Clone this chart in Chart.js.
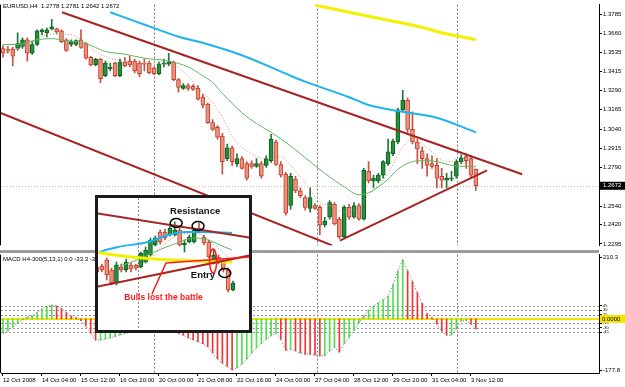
<!DOCTYPE html>
<html>
<head>
<meta charset="utf-8">
<title>EURUSD H4</title>
<script src="https://cdn.jsdelivr.net/npm/chart.js@4.4.1/dist/chart.umd.min.js"></script>
<style>
  html, body { margin: 0; padding: 0; background: #fff; }
  #wrap { position: relative; width: 625px; height: 387px; overflow: hidden; }
  #top { position: absolute; left: 0; top: 0; }
  #bot { position: absolute; left: 0; top: 250px; }
  #insetBox { position: absolute; left: 95px; top: 195px; width: 151px; height: 132px; border: 3px solid #1b1b1b; background: #fff; }
  #ins { display: block; }
</style>
</head>
<body>
<div id="wrap">
  <canvas id="top" width="625" height="250"></canvas>
  <canvas id="bot" width="625" height="137"></canvas>
  <div id="insetBox"><canvas id="ins" width="151" height="132"></canvas></div>
</div>
<script>
// ---- axis labels ----
const timeLabels = ['12 Oct 2008', '14 Oct 04:00', '15 Oct 12:00', '16 Oct 20:00', '20 Oct 00:00', '21 Oct 08:00',
  '22 Oct 16:00', '24 Oct 00:00', '27 Oct 04:00', '28 Oct 12:00', '29 Oct 20:00', '31 Oct 04:00', '3 Nov 12:00'];
const priceTicks = [1.3785, 1.3660, 1.3535, 1.3415, 1.3290, 1.3165, 1.3040, 1.2915, 1.2790, 1.2540, 1.2420, 1.2295];
const macdTicks = [210.3, 45, 30, 15, -15, -30, -45, -177.8];
const macdLevels = [45, 30, 15, -15, -30, -45];
const weekSeps = [31, 64.4, 93.1];

// ---- EURUSD H4 candles ----
const open = [1.3563,1.3557,1.3557,1.3563,1.3576,1.3620,1.3532,1.3589,1.3671,1.3665,
  1.3690,1.3690,1.3677,1.3620,1.3589,1.3589,1.3620,1.3595,1.3506,1.3456,
  1.3494,1.3386,1.3431,1.3468,1.3386,1.3475,1.3481,1.3481,1.3468,1.3468,
  1.3468,1.3437,1.3399,1.3462,1.3462,1.3475,1.3361,1.3304,1.3323,1.3317,
  1.3304,1.3247,1.3203,1.3082,1.3051,1.2994,1.2848,1.2918,1.2816,1.2848,
  1.2816,1.2816,1.2798,1.2816,1.2804,1.2835,1.2956,1.2810,1.2747,1.2544,
  1.2715,1.2639,1.2595,1.2525,1.2544,1.2532,1.2418,1.2468,1.2551,1.2456,
  1.2342,1.2532,1.2468,1.2544,1.2456,1.2766,1.2703,1.2703,1.2741,1.2816,
  1.2880,1.2956,1.3165,1.3228,1.3038,1.2956,1.2899,1.2848,1.2816,1.2804,
  1.2734,1.2709,1.2715,1.2734,1.2829,1.2861,1.2848,1.2778];
const high = [1.3582,1.3576,1.3570,1.3665,1.3633,1.3633,1.3608,1.3684,1.3690,1.3696,
  1.3753,1.3696,1.3684,1.3627,1.3620,1.3620,1.3684,1.3601,1.3513,1.3500,
  1.3500,1.3481,1.3468,1.3475,1.3494,1.3506,1.3513,1.3494,1.3481,1.3494,
  1.3481,1.3443,1.3475,1.3494,1.3532,1.3481,1.3367,1.3336,1.3336,1.3329,
  1.3323,1.3266,1.3209,1.3101,1.3063,1.3013,1.2943,1.2930,1.2880,1.2861,
  1.2829,1.2835,1.2848,1.2829,1.2867,1.3006,1.2968,1.2829,1.2760,1.2753,
  1.2734,1.2658,1.2608,1.2658,1.2557,1.2544,1.2468,1.2576,1.2563,1.2468,
  1.2544,1.2551,1.2563,1.2557,1.2785,1.2829,1.2741,1.2753,1.2835,1.2975,
  1.2975,1.3177,1.3291,1.3241,1.3152,1.2975,1.2924,1.2880,1.2867,1.2848,
  1.2785,1.2753,1.2766,1.2842,1.2873,1.2880,1.2867,1.2781];
const low = [1.3506,1.3532,1.3450,1.3551,1.3563,1.3481,1.3525,1.3582,1.3652,1.3639,
  1.3684,1.3658,1.3601,1.3544,1.3576,1.3582,1.3563,1.3494,1.3450,1.3450,
  1.3342,1.3380,1.3418,1.3380,1.3380,1.3443,1.3443,1.3405,1.3380,1.3418,
  1.3399,1.3393,1.3393,1.3443,1.3450,1.3355,1.3279,1.3298,1.3291,1.3291,
  1.3228,1.3177,1.3076,1.3032,1.2975,1.2747,1.2835,1.2804,1.2798,1.2779,
  1.2709,1.2785,1.2791,1.2722,1.2791,1.2823,1.2804,1.2728,1.2481,1.2519,
  1.2627,1.2595,1.2513,1.2500,1.2519,1.2354,1.2405,1.2456,1.2418,1.2329,
  1.2335,1.2456,1.2462,1.2449,1.2449,1.2690,1.2658,1.2690,1.2722,1.2804,
  1.2867,1.2943,1.3152,1.3019,1.2943,1.2816,1.2785,1.2734,1.2785,1.2658,
  1.2658,1.2658,1.2703,1.2722,1.2816,1.2785,1.2722,1.2642];
const close = [1.3532,1.3551,1.3513,1.3595,1.3620,1.3532,1.3589,1.3677,1.3684,1.3684,
  1.3703,1.3671,1.3608,1.3551,1.3608,1.3614,1.3570,1.3500,1.3456,1.3494,
  1.3367,1.3468,1.3443,1.3386,1.3475,1.3450,1.3456,1.3418,1.3399,1.3462,
  1.3405,1.3399,1.3462,1.3468,1.3475,1.3361,1.3310,1.3323,1.3304,1.3298,
  1.3234,1.3196,1.3082,1.3038,1.2987,1.2829,1.2918,1.2829,1.2848,1.2785,
  1.2722,1.2798,1.2816,1.2734,1.2848,1.2975,1.2810,1.2741,1.2494,1.2734,
  1.2639,1.2608,1.2532,1.2595,1.2525,1.2418,1.2443,1.2563,1.2424,1.2342,
  1.2532,1.2468,1.2544,1.2456,1.2772,1.2703,1.2722,1.2741,1.2829,1.2892,
  1.2962,1.3165,1.3228,1.3038,1.2956,1.2911,1.2848,1.2804,1.2798,1.2722,
  1.2709,1.2722,1.2722,1.2829,1.2854,1.2835,1.2741,1.2672];

// ---- moving averages (bar index, price) ----
const maGreenX = [0,3,7,10,13,17,21,25,29,34,38,41,43,45,49,52,55,59,62,66,70,73,75,77,79,81,84,86,89,92,95,97];
const maGreenY = [1.3589,1.3589,1.3620,1.3627,1.3614,1.3595,1.3544,1.3526,1.3500,1.3481,1.3443,1.3386,1.3342,1.3272,
  1.3146,1.3076,1.3019,1.2930,1.2854,1.2753,1.2665,1.2614,1.2627,1.2665,1.2715,1.2779,1.2829,1.2835,1.2829,1.2804,1.2798,1.2798];
const maDotX = [0,4,7,10,14,17,19,22,25,28,32,35,38,40,42,45,47,51,54,57,59,62,65,67,70,73,75,77,79,82,84,86,88,90,92,95,97];
const maDotY = [1.3532,1.3576,1.3627,1.3658,1.3652,1.3595,1.3544,1.3500,1.3481,1.3469,1.3462,1.3456,1.3380,1.3304,1.3247,
  1.3120,1.2994,1.2880,1.2848,1.2861,1.2804,1.2690,1.2563,1.2544,1.2500,1.2532,1.2614,1.2671,1.2753,1.2924,1.2975,1.2943,
  1.2893,1.2836,1.2829,1.2817,1.2785];
const maBlueX = [22,27,32,36,40,49,59,62,71,75,82,89,97];
const maBlueY = [1.3798,1.3741,1.3684,1.3639,1.3608,1.3519,1.3386,1.3348,1.3247,1.3196,1.3152,1.3114,1.3019];
const maYellowX = [64,71,79,86,90,97];
const maYellowY = [1.3845,1.3798,1.3747,1.3700,1.3665,1.3620];

// ---- trend lines ----
const upperChanX = [12.1, 106.5], upperChanY = [1.3798, 1.2747];
const lowerChanX = [-0.6, 67.5], lowerChanY = [1.3146, 1.2285];
const supportX = [69.1, 99.3], supportY = [1.2316, 1.2772];

// ---- MACD H4-300(5,13,1) ----
const macd = [-49,-42,-28,-15,-3,6,10,22,34,43,
  47,44,35,22,10,4,-6,-25,-50,-73,
  -72,-69,-65,-60,-55,-50,-47,-45,-44,-42,
  -42,-40,-38,-35,-32,-40,-50,-56,-65,-72,
  -78,-85,-95,-117,-137,-152,-163,-175,-168,-155,
  -138,-118,-100,-85,-70,-58,-50,-70,-108,-104,
  -110,-117,-121,-122,-124,-127,-126,-110,-99,-114,
  -85,-65,-40,-14,12,30,44,55,66,78,
  118,165,203,165,128,90,53,18,4,-18,
  -42,-56,-56,-34,-8,-5,-18,-34];

// ---- inset (zoomed view) ----
const insOpen = [1.2798,1.2804,1.2840,1.2780,1.2702,1.2798,1.2780,1.2810,1.2810,1.2798,1.2828,1.2870,1.2930,1.3008,1.3008,
  1.2990,1.2990,1.3020,1.2930,1.2948,1.2948,1.3032,1.2978,1.2948,1.2828,1.2858,1.2828,1.2780,1.2660];
const insHigh = [1.2816,1.2816,1.2852,1.2792,1.2828,1.2816,1.2846,1.2822,1.2816,1.2888,1.2918,1.2972,1.2984,1.3020,1.3026,
  1.3044,1.3068,1.3032,1.2960,1.2990,1.3026,1.3062,1.2990,1.2960,1.2900,1.2870,1.2840,1.2792,1.2714];
const insLow = [1.2756,1.2768,1.2720,1.2690,1.2690,1.2768,1.2768,1.2768,1.2780,1.2792,1.2822,1.2864,1.2924,1.2936,1.2960,
  1.2984,1.2984,1.2924,1.2888,1.2942,1.2942,1.3008,1.2930,1.2852,1.2816,1.2816,1.2768,1.2648,1.2654];
const insClose = [1.2768,1.2780,1.2750,1.2702,1.2810,1.2780,1.2828,1.2786,1.2792,1.2882,1.2900,1.2960,1.2972,1.2948,1.2972,
  1.3032,1.3020,1.2930,1.2942,1.2978,1.3020,1.3014,1.2942,1.2858,1.2870,1.2828,1.2780,1.2660,1.2702];
const insResX = [-0.4, 31.9], insResY = [1.3122, 1.2972];
const insSupX = [-0.4, 31.9], insSupY = [1.2678, 1.2870];
const insBlueX = [-0.4,4.3,10.5,14.6,18.1,21.6,27.8], insBlueY = [1.2882,1.2918,1.2948,1.2990,1.3008,1.3008,1.3002];
const insYellowX = [-0.4,3.7,9.3,15.4,20.2,27.8], insYellowY = [1.2888,1.2870,1.2852,1.2840,1.2834,1.2828];
const insGreenX = [4.7,8.8,11.3,15.4,20.2,22.8,26.3,27.8], insGreenY = [1.2804,1.2846,1.2882,1.2930,1.2972,1.2960,1.2918,1.2900];
const insDotX = [6.8,11.3,15.4,20.2,24.9,27], insDotY = [1.2780,1.2858,1.2972,1.3002,1.2912,1.2858];
const insArrowX = [11.3,14.2,31.5], insArrowY = [1.2636,1.2822,1.2858];
const insSep = 8.4;
const insCircleX = [16.3, 20.8, 26.3], insCircleY = [1.3062, 1.3044, 1.2762];
const insOvalX = 23.9, insOvalY = 1.2834;
const insNotes = ['Resistance', 'Entry', 'Bulls lost the battle'];
const insNoteX = [20.2, 21.8, 13.7], insNoteY = [1.3130, 1.2750, 1.2612];

Chart.defaults.font.family = '"Liberation Sans", Arial, sans-serif';
Chart.defaults.color = '#000';

const X_MIN = -0.41, X_MAX = 122.26;
const pts = (xs, ys) => xs.map((x, k) => ({x: x, y: ys[k]}));

function candleSets(o, h, l, c, order) {
    const idx = o.map((_, i) => i);
    const up = idx.map(i => c[i] >= o[i]);
    return [{
        type: 'bar',
        data: idx.map(i => ({x: i, y: [l[i], h[i]]})),
        barThickness: 1,
        grouped: false,
        backgroundColor: up.map(u => u ? '#1d7a33' : '#c9503d'),
        order: order + 1
    }, {
        type: 'bar',
        data: idx.map(i => ({x: i, y: [o[i], c[i]]})),
        barThickness: 4,
        grouped: false,
        minBarLength: 1,
        backgroundColor: up.map(u => u ? '#22913d' : '#f0907c'),
        borderColor: up.map(u => u ? '#0f5c22' : '#c0402e'),
        borderWidth: 1,
        borderSkipped: false,
        order: order
    }];
}

function lineSet(xs, ys, color, width, order, extra) {
    return Object.assign({
        type: 'line',
        data: pts(xs, ys),
        borderColor: color,
        borderWidth: width,
        pointRadius: 0,
        fill: false,
        cubicInterpolationMode: 'monotone',
        order: order
    }, extra || {});
}

function vDotted(ctx, area, px) {
    px = Math.round(px) + 0.5;
    ctx.beginPath();
    ctx.moveTo(px, area.top);
    ctx.lineTo(px, area.bottom);
    ctx.stroke();
}

// ---------- price pane ----------
const priceDecor = {
    id: 'priceDecor',
    beforeDatasetsDraw(chart) {
        const {ctx, chartArea: a, scales: {x, y}} = chart;
        ctx.save();
        ctx.lineWidth = 1;
        ctx.strokeStyle = '#7a7a7a';
        ctx.setLineDash([2, 2]);
        weekSeps.forEach(v => vDotted(ctx, a, x.getPixelForValue(v)));
        const py = Math.round(y.getPixelForValue(close[close.length - 1])) + 0.5;
        ctx.strokeStyle = '#d9b3b3';
        ctx.setLineDash([1, 2]);
        ctx.beginPath();
        ctx.moveTo(a.left, py);
        ctx.lineTo(a.right, py);
        ctx.stroke();
        ctx.restore();
    },
    afterDraw(chart) {
        const {ctx, chartArea: a, scales: {y}} = chart;
        const n = close.length - 1;
        ctx.save();
        ctx.fillStyle = '#000';
        ctx.fillRect(0, a.top, 1, a.bottom - a.top);
        ctx.font = '6px "Liberation Sans", Arial';
        ctx.textBaseline = 'middle';
        ctx.fillText('EURUSD,H4  ' + [open[n], high[n], low[n], close[n]].map(v => v.toFixed(4)).join(' '), 3, 6);
        const py = y.getPixelForValue(close[n]);
        ctx.fillRect(a.right + 1, py - 4, 25, 8);
        ctx.fillStyle = '#fff';
        ctx.fillText(close[n].toFixed(4), a.right + 4, py);
        ctx.restore();
    }
};

new Chart(document.getElementById('top'), {
    type: 'bar',
    data: {
        datasets: [
            lineSet(upperChanX, upperChanY, '#a82424', 2, 0, {cubicInterpolationMode: 'default', tension: 0}),
            lineSet(lowerChanX, lowerChanY, '#a82424', 2, 0, {cubicInterpolationMode: 'default', tension: 0}),
            lineSet(supportX, supportY, '#a82424', 2, 0, {cubicInterpolationMode: 'default', tension: 0}),
            lineSet(maYellowX, maYellowY, '#f2f200', 3, 1),
            lineSet(maBlueX, maBlueY, '#1eb4f0', 2, 1),
            lineSet(maGreenX, maGreenY, '#5cb85c', 1, 2),
            lineSet(maDotX, maDotY, '#d08a6a', 1, 2, {borderDash: [1, 2]}),
            ...candleSets(open, high, low, close, 3)
        ]
    },
    options: {
        responsive: false,
        animation: false,
        events: [],
        layout: {padding: {left: 1, top: 2, right: 0, bottom: 1}},
        plugins: {legend: {display: false}, tooltip: {enabled: false}},
        scales: {
            x: {type: 'linear', min: X_MIN, max: X_MAX, display: false, offset: false, grid: {offset: false}},
            y: {
                position: 'right',
                min: 1.2285,
                max: 1.3848,
                afterFit: s => { s.width = 26; },
                afterBuildTicks: s => { s.ticks = priceTicks.map(v => ({value: v})); },
                ticks: {autoSkip: false, padding: 1, font: {size: 6}, callback: v => v.toFixed(4)},
                grid: {drawOnChartArea: false, tickLength: 3, color: '#000'},
                border: {color: '#000'}
            }
        }
    },
    plugins: [priceDecor]
});

// ---------- MACD pane ----------
const macdDecor = {
    id: 'macdDecor',
    beforeDatasetsDraw(chart) {
        const {ctx, chartArea: a, scales: {x, y}} = chart;
        ctx.save();
        ctx.lineWidth = 1;
        ctx.strokeStyle = '#7a7a7a';
        ctx.setLineDash([2, 2]);
        weekSeps.forEach(v => vDotted(ctx, a, x.getPixelForValue(v)));
        ctx.strokeStyle = '#9a9a9a';
        macdLevels.forEach(v => {
            const py = Math.round(y.getPixelForValue(v)) + 0.5;
            ctx.beginPath();
            ctx.moveTo(a.left, py);
            ctx.lineTo(a.right, py);
            ctx.stroke();
        });
        ctx.setLineDash([]);
        ctx.strokeStyle = '#f4e400';
        ctx.lineWidth = 2;
        const zy = Math.round(y.getPixelForValue(0));
        ctx.beginPath();
        ctx.moveTo(a.left, zy);
        ctx.lineTo(a.right, zy);
        ctx.stroke();
        ctx.restore();
    },
    afterDraw(chart) {
        const {ctx, chartArea: a, scales: {y}} = chart;
        ctx.save();
        ctx.fillStyle = '#9c9c9c';
        ctx.fillRect(0, 0, a.right, 3);
        ctx.fillStyle = '#000';
        ctx.fillRect(0, a.top, 1, a.bottom - a.top);
        ctx.font = '6px "Liberation Sans", Arial';
        ctx.textBaseline = 'middle';
        ctx.fillText('MACD H4-300(5,13,1) 0.0 -33.3 -33.3', 3, a.top + 5);
        const zy = y.getPixelForValue(0);
        ctx.fillStyle = '#f4e400';
        ctx.fillRect(a.right + 1, zy - 4, 25, 8);
        ctx.fillStyle = '#000';
        ctx.fillText('0.0000', a.right + 3, zy);
        ctx.restore();
    }
};

const macdColors = macd.map((v, i) => (i === 0 || v >= macd[i - 1]) ? '#52dd52' : '#ee3535');

new Chart(document.getElementById('bot'), {
    type: 'bar',
    data: {
        datasets: [
            lineSet(macd.map((_, i) => i), macd, '#6f6f6f', 1, 0, {borderDash: [1, 2], cubicInterpolationMode: 'default', tension: 0}),
            {
                type: 'bar',
                data: macd.map((v, i) => ({x: i, y: v})),
                barThickness: 1,
                grouped: false,
                backgroundColor: macdColors,
                order: 1
            }
        ]
    },
    options: {
        responsive: false,
        animation: false,
        events: [],
        layout: {padding: {left: 1, top: 4, right: 0, bottom: 0}},
        plugins: {legend: {display: false}, tooltip: {enabled: false}},
        scales: {
            x: {
                type: 'linear',
                min: X_MIN,
                max: X_MAX,
                offset: false,
                afterFit: s => { s.height = 14; },
                afterBuildTicks: s => { s.ticks = timeLabels.map((_, k) => ({value: k * 8})); },
                ticks: {autoSkip: false, maxRotation: 0, minRotation: 0, align: 'start', padding: 1,
                    font: {size: 6}, callback: v => timeLabels[v / 8]},
                grid: {drawOnChartArea: false, tickLength: 3, color: '#000', offset: false},
                border: {color: '#000'}
            },
            y: {
                position: 'right',
                min: -185.6,
                max: 220.5,
                afterFit: s => { s.width = 26; },
                afterBuildTicks: s => { s.ticks = macdTicks.map(v => ({value: v})); },
                ticks: {
                    autoSkip: false,
                    padding: 1,
                    font: c => ({size: (c.tick && Math.abs(c.tick.value) < 100) ? 4 : 6}),
                    callback: v => Math.abs(v) > 100 ? v.toFixed(1) : String(v)
                },
                grid: {drawOnChartArea: false, tickLength: 3, color: '#000'},
                border: {color: '#000'}
            }
        }
    },
    plugins: [macdDecor]
});

// ---------- inset ----------
const insetMarks = {
    id: 'insetMarks',
    beforeDatasetsDraw(chart) {
        const {ctx, chartArea: a, scales: {x}} = chart;
        ctx.save();
        ctx.strokeStyle = '#8a8a8a';
        ctx.setLineDash([2, 2]);
        vDotted(ctx, a, x.getPixelForValue(insSep));
        ctx.restore();
    },
    afterDatasetsDraw(chart) {
        const {ctx, scales: {x, y}} = chart;
        ctx.save();
        ctx.lineWidth = 1.5;
        ctx.strokeStyle = '#000';
        insCircleX.forEach((cx, k) => {
            ctx.beginPath();
            ctx.ellipse(x.getPixelForValue(cx), y.getPixelForValue(insCircleY[k]), 6, 4.5, 0, 0, Math.PI * 2);
            ctx.stroke();
        });
        ctx.strokeStyle = '#ff1a1a';
        ctx.beginPath();
        ctx.ellipse(x.getPixelForValue(insOvalX), y.getPixelForValue(insOvalY), 3.5, 12, 0, 0, Math.PI * 2);
        ctx.stroke();
        ctx.textAlign = 'center';
        ctx.textBaseline = 'middle';
        insNotes.forEach((t, k) => {
            ctx.font = 'bold ' + (k === 2 ? 8.5 : 9.5) + 'px "Liberation Sans", Arial';
            ctx.fillStyle = k === 2 ? '#ff1a1a' : '#111';
            ctx.fillText(t, x.getPixelForValue(insNoteX[k]), y.getPixelForValue(insNoteY[k]));
        });
        ctx.restore();
    }
};

new Chart(document.getElementById('ins'), {
    type: 'bar',
    data: {
        datasets: [
            lineSet(insArrowX, insArrowY, '#ff1a1a', 1.5, 0, {cubicInterpolationMode: 'default', tension: 0}),
            lineSet(insResX, insResY, '#a82424', 2, 0, {cubicInterpolationMode: 'default', tension: 0}),
            lineSet(insSupX, insSupY, '#a82424', 2, 0, {cubicInterpolationMode: 'default', tension: 0}),
            lineSet(insYellowX, insYellowY, '#f2f200', 3, 1),
            lineSet(insBlueX, insBlueY, '#1eb4f0', 2, 1),
            lineSet(insGreenX, insGreenY, '#5cb85c', 1, 2),
            lineSet(insDotX, insDotY, '#d08a6a', 1, 2, {borderDash: [1, 2]}),
            ...candleSets(insOpen, insHigh, insLow, insClose, 3)
        ]
    },
    options: {
        responsive: false,
        animation: false,
        events: [],
        layout: {padding: 0},
        plugins: {legend: {display: false}, tooltip: {enabled: false}},
        scales: {
            x: {type: 'linear', min: 0.206, max: 31.28, display: false, offset: false, grid: {offset: false}},
            y: {min: 1.2420, max: 1.3212, display: false}
        }
    },
    plugins: [insetMarks]
});
</script>
</body>
</html>
